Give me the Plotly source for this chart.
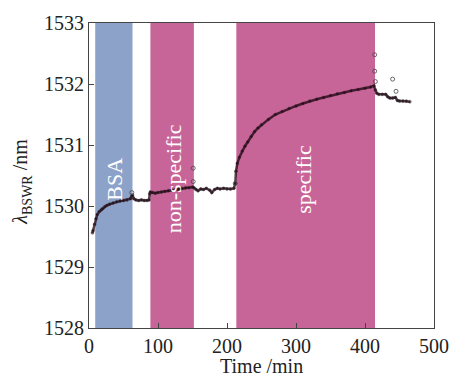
import plotly.graph_objects as go

# Measurement data (time in min, resonance wavelength in nm)
time = [5, 6, 8, 10, 12, 15, 18, 20, 23, 26, 30, 35, 40, 45, 50, 55, 60, 62,
        63, 65, 68, 72, 76, 80, 84, 87, 88, 89, 92, 96, 100, 105, 110, 115,
        120, 125, 130, 135, 140, 145, 150, 152, 155, 158, 162, 166, 170, 175,
        178, 182, 186, 190, 195, 200, 205, 210, 212, 213, 215, 218, 222, 226,
        230, 235, 240, 245, 250, 260, 270, 280, 290, 300, 310, 320, 330, 340,
        350, 360, 370, 380, 390, 400, 408, 413, 415, 417, 420, 425, 430, 433,
        436, 440, 444, 447, 450, 455, 460, 465]
wavelength = [1529.56, 1529.60, 1529.70, 1529.79, 1529.86, 1529.91, 1529.94,
              1529.96, 1529.99, 1530.01, 1530.03, 1530.05, 1530.07, 1530.08,
              1530.09, 1530.10, 1530.12, 1530.16, 1530.18, 1530.12, 1530.10,
              1530.09, 1530.10, 1530.09, 1530.09, 1530.10, 1530.20, 1530.23,
              1530.22, 1530.21, 1530.22, 1530.23, 1530.24, 1530.25, 1530.26,
              1530.27, 1530.28, 1530.29, 1530.30, 1530.30, 1530.31, 1530.30,
              1530.27, 1530.25, 1530.28, 1530.27, 1530.29, 1530.26, 1530.22,
              1530.27, 1530.29, 1530.28, 1530.29, 1530.28, 1530.28, 1530.29,
              1530.37, 1530.57, 1530.70, 1530.80, 1530.90, 1530.98, 1531.05,
              1531.14, 1531.22, 1531.28, 1531.33, 1531.42, 1531.50, 1531.55,
              1531.60, 1531.64, 1531.68, 1531.72, 1531.75, 1531.78, 1531.81,
              1531.84, 1531.86, 1531.89, 1531.91, 1531.93, 1531.95, 1531.97,
              1531.90, 1531.85, 1531.83, 1531.83, 1531.83, 1531.79, 1531.77,
              1531.77, 1531.78, 1531.73, 1531.72, 1531.72, 1531.72, 1531.71]

outlier_time = [151, 151, 212, 414, 414, 415, 440, 445, 62]
outlier_wavelength = [1530.62, 1530.40, 1530.37, 1532.48, 1532.21, 1532.04,
                      1532.08, 1531.88, 1530.22]

# Incubation phases
phase_names = ["BSA", "non-specific", "specific"]
phase_start = [9, 89, 213.5]
phase_end = [63, 152, 414.5]
phase_colors = ["#8da2c9", "#c86598", "#c86598"]
label_time = [37, 122, 311]
label_level = 1530.44

x_title = "Time /min"
y_title = "<i>λ</i><sub>BSWR</sub> /nm"

FONT = "Liberation Serif"
TXT = "#222"

fig = go.Figure()

for s, e, c in zip(phase_start, phase_end, phase_colors):
    fig.add_vrect(x0=s, x1=e, fillcolor=c, opacity=1, line_width=0, layer="below")

fig.add_trace(go.Scatter(
    x=time, y=wavelength, mode="lines+markers",
    line=dict(color="rgba(30,0,15,0.75)", width=2.5),
    marker=dict(size=3, color="rgba(30,0,15,0.6)",
                line=dict(color="rgba(60,60,60,0.7)", width=0.5)),
    showlegend=False))

fig.add_trace(go.Scatter(
    x=outlier_time, y=outlier_wavelength, mode="markers",
    marker=dict(size=4, symbol="circle-open", color="rgba(70,70,70,0.8)",
                line=dict(width=1)),
    showlegend=False))

for name, t in zip(phase_names, label_time):
    fig.add_annotation(x=t, y=label_level, text=name, showarrow=False,
                       textangle=-90,
                       font=dict(family=FONT, size=22, color="white"))

# axis titles placed as annotations for exact positioning
fig.add_annotation(xref="paper", yref="paper", x=0.5, y=-0.125,
                   text=x_title, showarrow=False, xanchor="center", yanchor="middle",
                   font=dict(family=FONT, size=20, color=TXT))
fig.add_annotation(xref="paper", yref="paper", x=-0.194, y=0.48,
                   text=y_title, showarrow=False, textangle=-90,
                   xanchor="center", yanchor="middle",
                   font=dict(family=FONT, size=20, color=TXT))

axis_common = dict(
    showgrid=False, zeroline=False, showline=True, linecolor="#444",
    linewidth=1.2, mirror=True, ticks="inside", ticklen=5, tickcolor="#444",
    automargin=False,
    tickfont=dict(family=FONT, size=20, color=TXT),
)

fig.update_xaxes(range=[0, 500], dtick=100, **axis_common)
fig.update_yaxes(range=[1528, 1533], dtick=1, **axis_common)

fig.update_layout(
    width=452, height=376,
    margin=dict(l=89, r=18, t=23, b=48),
    paper_bgcolor="white", plot_bgcolor="white",
)

# remove the default body margin so the figure fills the window exactly
fig.write_html("out.html", config={"displayModeBar": False},
               post_script="document.body.style.margin='0';")
